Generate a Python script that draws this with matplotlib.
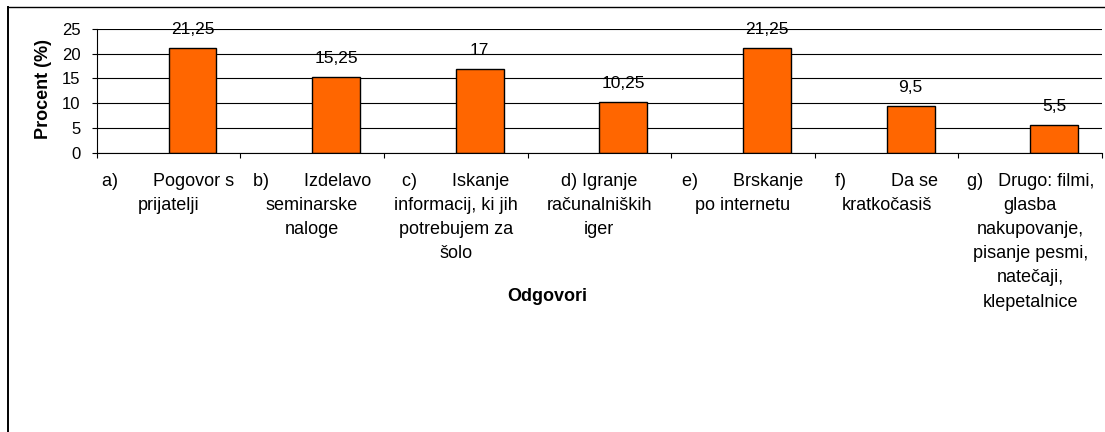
import matplotlib
matplotlib.use("Agg")
import matplotlib.pyplot as plt
from matplotlib.lines import Line2D

plt.rcParams['font.family'] = ['Liberation Sans', 'DejaVu Sans']

# --- data -----------------------------------------------------------
categories = [
    "a)       Pogovor s\nprijatelji",
    "b)       Izdelavo\nseminarske\nnaloge",
    "c)       Iskanje\ninformacij, ki jih\npotrebujem za\nšolo",
    "d) Igranje\nračunalniških\niger",
    "e)       Brskanje\npo internetu",
    "f)         Da se\nkratkočasiš",
    "g)   Drugo: filmi,\nglasba\nnakupovanje,\npisanje pesmi,\nnatečaji,\nklepetalnice",
]
values = [21.25, 15.25, 17, 10.25, 21.25, 9.5, 5.5]
value_labels = ["21,25", "15,25", "17", "10,25", "21,25", "9,5", "5,5"]
y_ticks = [0, 5, 10, 15, 20, 25]

W, H = 1105, 432
PX = 72 / 100  # points per pixel at dpi 100

fig = plt.figure(figsize=(W / 100, H / 100), dpi=100)
ax = fig.add_axes([96.7 / W, (H - 152.7) / H, 1005.3 / W, 123.7 / H])

# bars sit in the right half of each category slot (Excel style)
xs = [i + 0.5 for i in range(len(values))]
ax.bar(xs, values, width=0.334, align='edge', color='#FF6600',
       edgecolor='black', linewidth=1.0, zorder=3)

for x, v, lab in zip(xs, values, value_labels):
    ax.annotate(lab, xy=(x + 0.167, v), xytext=(0, 14 * PX),
                textcoords='offset points', ha='center', va='baseline',
                fontsize=12.5, color='black', zorder=4)

ax.set_xlim(0, len(values))
ax.set_ylim(0, 25)
ax.set_yticks(y_ticks)
ax.set_yticklabels([str(t) for t in y_ticks], fontsize=12)
ax.set_xticks(range(len(values) + 1))
ax.set_xticklabels([])
ax.tick_params(axis='y', direction='out', length=5 * PX, width=0.8, pad=8)
ax.tick_params(axis='x', direction='out', length=5 * PX, width=0.8)

ax.grid(axis='y', color='black', linewidth=0.8, zorder=0)
ax.set_axisbelow(True)
for side in ('top', 'right'):
    ax.spines[side].set_visible(False)
for side in ('left', 'bottom'):
    ax.spines[side].set_linewidth(0.8)
    ax.spines[side].set_zorder(5)

# category labels, one line at a time, centered on each slot
for i, cat in enumerate(categories):
    for k, line in enumerate(cat.split("\n")):
        dy = (185.7 - 152.7) + k * 24.2
        ax.annotate(line, xy=(i + 0.5, 0), xycoords=ax.get_xaxis_transform(),
                    xytext=(0, -dy * PX), textcoords='offset points',
                    ha='center', va='baseline', fontsize=13, annotation_clip=False)

ax.set_ylabel("Procent (%)", fontsize=13, fontweight='bold', va='center')
ax.yaxis.set_label_coords(-0.0531, 0.515)
ax.set_xlabel("Odgovori", fontsize=13, fontweight='bold', va='baseline')
ax.xaxis.set_label_coords(0.4484, -1.196)

# chart area border (left and top edges visible in the original)
fig.add_artist(Line2D([8.3 / W, 8.3 / W], [0, 1 - 6.7 / H], color='black',
                      linewidth=1.4, transform=fig.transFigure))
fig.add_artist(Line2D([8.3 / W, 1], [1 - 6.7 / H, 1 - 6.7 / H], color='black',
                      linewidth=1.0, transform=fig.transFigure))

fig.savefig("out.png", dpi=100)
